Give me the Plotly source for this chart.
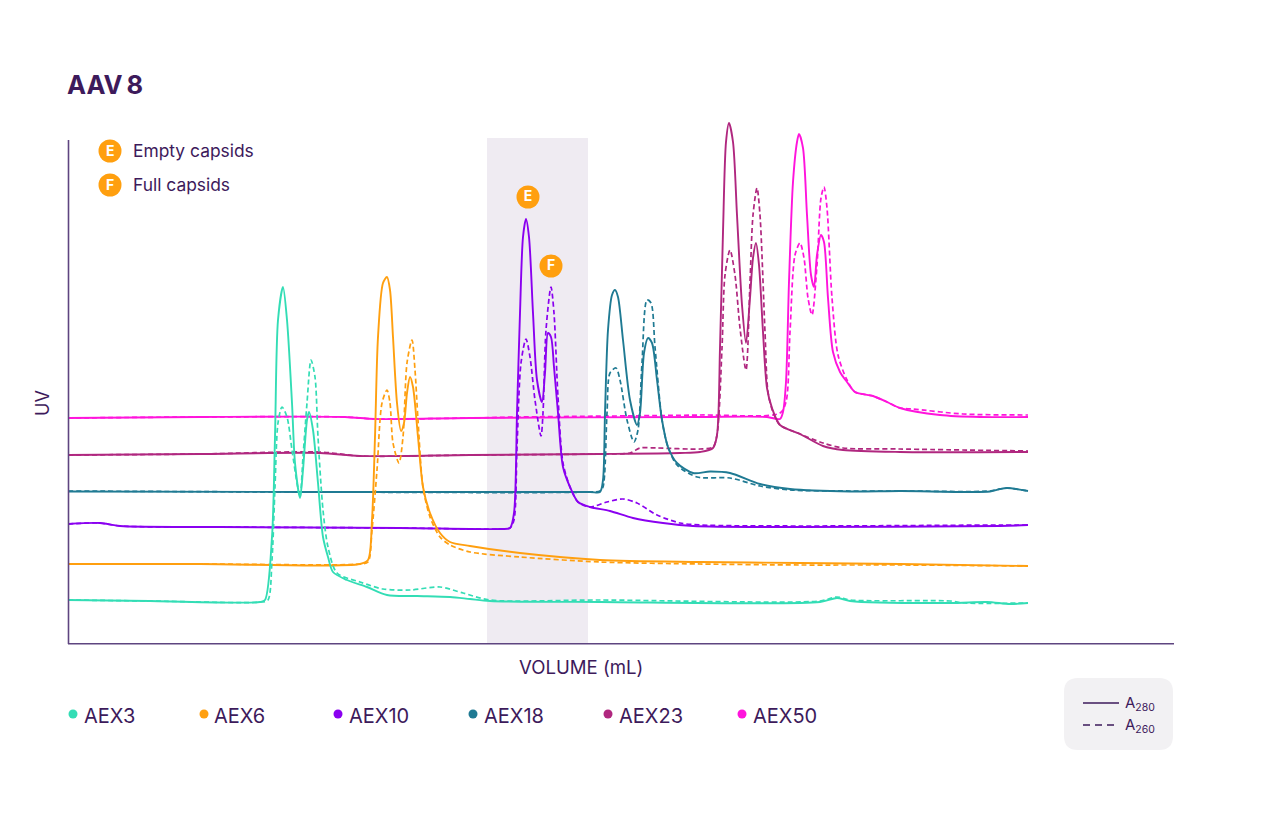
# -*- coding: utf-8 -*-
# AAV8 anion exchange traces, A280 solid and A260 dashed for each column
import plotly.graph_objects as go

# the page body keeps its 8px margin, so the figure is 16px short of the window
W = 1264
H = 802
OFFSET = 8

INK = "#3D1A5B"
AXIS = "#5E4580"
FONT = "Inter, Lato, sans-serif"

series_names = ["AEX3", "AEX6", "AEX10", "AEX18", "AEX23", "AEX50"]
series_colors = ["#33DDB5", "#FF9F0F", "#8A00F0", "#1F7A93", "#B0277F", "#FF14DC"]

# volume / signal
aex3_v = [68,150,260,265,272,275,278,283,287,292,295,300,303,307,309,313,318,323,328,333,347,367,387,417,450,470,490,600,820,837,850,950,987,1010,1028]
aex3_a280 = [44,43,42,44,107,207,324,357,324,241,181,146,174,224,232,214,161,107,87,72,64,57,49,48,47,45,43,42,42,46,43,41,42,40,41]
aex3_v2 = [68,150,262,268,272,275,278,282,287,292,297,300,303,307,311,315,318,323,328,337,360,383,410,440,463,490,600,820,837,850,950,965,1028]
aex3_a260 = [44,43,42,44,84,157,221,237,227,194,161,147,187,241,284,267,207,134,97,71,62,55,54,57,51,44,44,43,47,44,43,41,41]

aex6_v = [68,200,360,368,372,375,378,383,387,390,393,397,401,404,407,410,413,418,423,430,440,450,470,520,600,700,800,900,1028]
aex6_a280 = [80,80,80,84,124,207,307,361,367,354,307,241,213,221,251,267,257,207,157,131,111,102,98,91,84,82,81,80,78]
aex6_v2 = [68,200,360,368,372,377,382,387,390,393,399,403,407,412,415,418,423,430,440,450,470,520,600,700,800,900,1028]
aex6_a260 = [80,80,80,82,114,174,241,254,241,201,181,207,281,304,274,224,157,127,107,99,92,87,82,80,79,79,78]

aex10_v = [68,100,120,220,400,500,510,514,517,520,523,526,529,533,537,542,545,548,551,554,558,563,570,578,590,610,633,663,693,800,1000,1028]
aex10_a280 = [120,121,118,117,116,115,116,131,231,331,407,425,407,331,264,242,271,311,307,277,231,177,157,142,137,133,126,121,118,117,118,119]
aex10_v2 = [68,100,120,220,400,500,510,514,517,521,526,530,535,541,543,546,551,554,558,563,570,578,590,607,623,637,657,680,700,800,1000,1028]
aex10_a260 = [120,121,118,117,116,115,116,124,197,281,305,287,244,208,231,314,357,331,247,181,157,142,137,142,145,141,129,121,119,118,119,119]

aex18_v = [68,300,590,600,603,605,608,612,615,618,623,630,637,640,644,648,652,657,662,668,677,693,710,730,760,790,850,900,990,1000,1007,1028]
aex18_a280 = [152.5,152,152,152,164,231,314,349,354,347,304,244,219,231,291,306,301,264,224,197,181,171,172.5,171,160,155,152.5,153,152.5,155,156,153]
aex18_v2 = [68,300,590,600,603,607,610,616,620,627,634,638,642,647,651,655,662,668,677,697,730,760,790,850,900,990,1000,1007,1028]
aex18_a260 = [153,152,152,153,157,231,271,276,264,224,202,214,281,344,341,297,224,197,179,167,166,158,154,153,153,153,155,156,153]

aex23_v = [68,200,320,360,470,600,680,700,713,717,720,723,726,729,733,737,742,746,750,753,756,759,763,767,772,780,800,823,843,900,1028]
aex23_a280 = [189,190,191,188,189,190,191,192,196,209,296,412,502,521,502,429,339,301,346,386,401,379,312,256,236,219,210,198,194,192,192]
aex23_v2 = [68,200,320,360,470,600,630,640,657,700,713,717,722,725,730,735,740,746,750,753,757,760,765,768,773,780,800,823,843,900,1028]
aex23_a260 = [189,190,192,188,189,190,191,196,196,195,197,209,296,369,394,369,316,274,362,429,456,429,312,252,232,219,210,201,196,195,193]

aex50_v = [68,200,345,375,470,700,767,780,783,786,789,793,797,799,803,807,811,814,817,821,824,828,833,840,847,855,873,887,900,940,980,1028]
aex50_a280 = [226,227,227,225,226,227,227,225,232,262,362,462,502,510,496,429,369,357,389,409,402,346,292,272,262,252,248,242,236,229,227,227]
aex50_v2 = [68,200,345,375,470,520,700,780,786,790,795,800,804,808,812,817,821,824,827,832,838,847,855,873,887,900,913,963,1028]
aex50_a260 = [226,227,227,225,226,227,229,231,242,312,389,401,386,346,329,379,446,457,436,346,289,264,252,248,242,236,235,230,229]

solid_v = [aex3_v, aex6_v, aex10_v, aex18_v, aex23_v, aex50_v]
solid_y = [aex3_a280, aex6_a280, aex10_a280, aex18_a280, aex23_a280, aex50_a280]
dash_v = [aex3_v2, aex6_v2, aex10_v2, aex18_v2, aex23_v2, aex50_v2]
dash_y = [aex3_a260, aex6_a260, aex10_a260, aex18_a260, aex23_a260, aex50_a260]

band_v = [487, 588]
badge_letters = ["E", "F"]
badge_v = [528, 551]
badge_y = [447, 378]

def fx(x):
    return (x - OFFSET) / W

def fy(y):
    return 1 - (y - OFFSET) / H

def label(x, y, text, size=17, anchor="left", color=INK, **kw):
    # annotations carry about 2px of padding on the left
    if anchor == "left":
        x = x - 2
    return dict(x=fx(x), y=fy(y), xref="paper", yref="paper", text=text, showarrow=False,
                xanchor=anchor, yanchor="middle", font=dict(family=FONT, size=size, color=color), **kw)

def dot(x, y, r, color):
    return dict(type="circle", xref="paper", yref="paper", x0=fx(x - r), x1=fx(x + r),
                y0=fy(y + r), y1=fy(y - r), fillcolor=color, line=dict(width=0), layer="above")

fig = go.Figure()

# AEX50 first so the earlier columns sit on top
for i in reversed(range(len(series_names))):
    fig.add_trace(go.Scatter(x=dash_v[i], y=dash_y[i], mode="lines", name=series_names[i] + " A260",
                             line=dict(color=series_colors[i], width=1.7, dash="5px,3px", shape="spline", smoothing=0.8)))
    fig.add_trace(go.Scatter(x=solid_v[i], y=solid_y[i], mode="lines", name=series_names[i] + " A280",
                             line=dict(color=series_colors[i], width=1.9, shape="spline", smoothing=0.8)))

fig.add_trace(go.Scatter(x=badge_v, y=badge_y, mode="markers+text", text=badge_letters,
                         textfont=dict(family=FONT, size=14, color="white", weight=700),
                         textposition="middle center",
                         marker=dict(size=23, color=series_colors[1]), name="capsids"))

shapes = [
    dict(type="rect", xref="x", yref="paper", x0=band_v[0], x1=band_v[1], y0=fy(644), y1=fy(138),
         fillcolor="#EFEBF2", line=dict(width=0), layer="below"),
    # axes are drawn on their own, the y axis stops short of the tallest peaks
    dict(type="line", xref="paper", yref="paper", x0=fx(68.5), x1=fx(68.5), y0=fy(644), y1=fy(140),
         line=dict(color=AXIS, width=1.6)),
    dict(type="line", xref="paper", yref="paper", x0=fx(68), x1=fx(1174), y0=fy(643.7), y1=fy(643.7),
         line=dict(color=AXIS, width=1.6)),
    # A280/A260 key box
    dict(type="path", xref="paper", yref="paper", fillcolor="#F2F1F3", line=dict(width=0), layer="below",
         path="M %f %f L %f %f Q %f %f %f %f L %f %f Q %f %f %f %f L %f %f Q %f %f %f %f L %f %f Q %f %f %f %f Z" % (
             fx(1078), fy(678), fx(1159), fy(678), fx(1173), fy(678), fx(1173), fy(692),
             fx(1173), fy(736), fx(1173), fy(750), fx(1159), fy(750),
             fx(1078), fy(750), fx(1064), fy(750), fx(1064), fy(736),
             fx(1064), fy(692), fx(1064), fy(678), fx(1078), fy(678))),
    dict(type="line", xref="paper", yref="paper", x0=fx(1083), x1=fx(1119), y0=fy(703), y1=fy(703),
         line=dict(color=INK, width=1.3)),
    dict(type="line", xref="paper", yref="paper", x0=fx(1083), x1=fx(1116), y0=fy(725), y1=fy(725),
         line=dict(color=INK, width=1.3, dash="7px,5px")),
    dot(110, 151, 11.5, series_colors[1]),
    dot(110, 185, 11.5, series_colors[1]),
]

legend_dot_x = [73, 204, 338, 473, 608, 742]
legend_text_x = [84, 214, 349, 484, 619, 753]
for i in range(len(series_names)):
    shapes.append(dot(legend_dot_x[i], 714, 4.5, series_colors[i]))

annotations = [
    label(67, 85, "<b>AAV\u20098</b>", size=25.5),
    label(110, 151, "<b>E</b>", size=14, anchor="center", color="white"),
    label(110, 185, "<b>F</b>", size=14, anchor="center", color="white"),
    label(133, 151, "Empty capsids", size=17.4),
    label(133, 185, "Full capsids", size=17.4),
    label(581, 667, "VOLUME (mL)", size=18.6, anchor="center"),
    label(42, 403, "UV", size=18, anchor="center", textangle=-90),
    label(1125, 703, "A<sub>280</sub>", size=15),
    label(1125, 725, "A<sub>260</sub>", size=15),
]
for i in range(len(series_names)):
    annotations.append(label(legend_text_x[i], 716, series_names[i], size=20))

fig.update_layout(
    width=W, height=H, autosize=False, showlegend=False,
    margin=dict(l=0, r=0, t=0, b=0),
    paper_bgcolor="white", plot_bgcolor="white",
    shapes=shapes, annotations=annotations,
    xaxis=dict(domain=[fx(68), fx(1174)], range=[68, 1174], showgrid=False, zeroline=False,
               showticklabels=False, ticks="", showline=False),
    yaxis=dict(domain=[fy(644), fy(100)], range=[0, 544], showgrid=False, zeroline=False,
               showticklabels=False, ticks="", showline=False),
)

fig.write_html("out.html")
